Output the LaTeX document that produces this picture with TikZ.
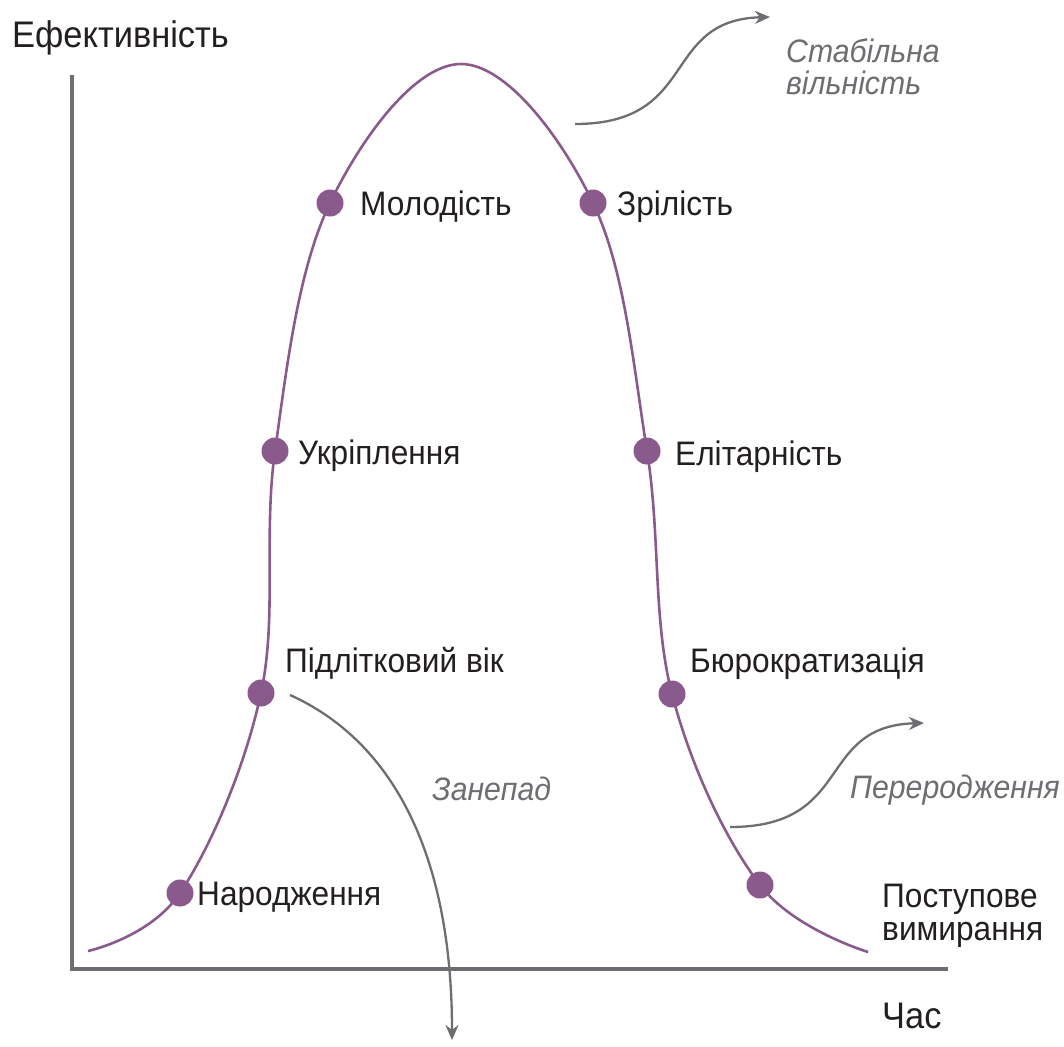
\documentclass[tikz,border=0pt]{standalone}
\usepackage{fontspec}
\setmainfont[FakeStretch=0.93]{Liberation Sans}
\usetikzlibrary{arrows.meta}
\definecolor{axisgray}{HTML}{6D6E71}
\definecolor{lifepurple}{HTML}{8A5A8C}
\definecolor{labeldark}{HTML}{231F20}
\definecolor{notegray}{HTML}{6D6E71}
\begin{document}
\begin{tikzpicture}[x=1pt,y=-1pt,
  axisline/.style={draw=axisgray,line width=3.5pt},
  lifecurve/.style={draw=lifepurple,line width=2.6pt},
  stagedot/.style={circle,fill=lifepurple,inner sep=0pt,minimum size=27pt},
  stagelabel/.style={anchor=base west,inner sep=0pt,text=labeldark,font=\fontsize{34}{38}\selectfont},
  axislabel/.style={anchor=base west,inner sep=0pt,text=labeldark,font=\fontsize{37}{40}\selectfont},
  notelabel/.style={anchor=base west,inner sep=0pt,text=notegray,font=\fontsize{32.5}{36}\selectfont\itshape},
  trendarrow/.style={draw=axisgray,line width=2.3pt,-{Stealth[length=15pt,width=13pt]}}]
\useasboundingbox (0,0) rectangle (1064,1046);
% axes
\coordinate (ytop) at (72,75);
\coordinate (origin) at (72,969);
\coordinate (xend) at (948,969);
\draw[axisline] (ytop) -- (origin) -- (xend);
% curve points
\coordinate (c0) at (88,951);
\coordinate (p1) at (180,893);
\coordinate (p2) at (261,693);
\coordinate (p3) at (275,451);
\coordinate (p4) at (330,203);
\coordinate (peak) at (461,64);
\coordinate (p5) at (593,203);
\coordinate (p6) at (647,451);
\coordinate (p7) at (672,694);
\coordinate (p8) at (760,885);
\coordinate (c9) at (868,952);
\draw[lifecurve] plot[smooth,tension=0.62] coordinates {(88,951) (180,893) (261,693) (275,451) (330,203) (461,64) (593,203) (647,451) (672,694) (760,885) (868,952)};
% dots
\foreach \p in {p1,p2,p3,p4,p5,p6,p7,p8} \node[stagedot] (d\p) at (\p) {};
% stage labels
\node[stagelabel] (lbirth) at (197,905) {Народження};
\node[stagelabel] (lteen) at (285,672) {Підлітковий вік};
\node[stagelabel] (lstr) at (298,464) {Укріплення};
\node[stagelabel] (lyouth) at (360,215) {Молодість};
\node[stagelabel] (lmat) at (617,215) {Зрілість};
\node[stagelabel] (lelite) at (675,465) {Елітарність};
\node[stagelabel] (lbur) at (690,672) {Бюрократизація};
\node[stagelabel] (ldie1) at (882,907) {Поступове};
\node[stagelabel] (ldie2) at (882,940) {вимирання};
\node[axislabel] (ltime) at (882,1028) {Час};
\node[axislabel] (leff) at (12,48) {Ефективність};
% notes
\node[notelabel] (lstab1) at (786,63) {Стабільна};
\node[notelabel] (lstab2) at (786,95) {вільність};
\node[notelabel] (ldecl) at (432,800) {Занепад};
\node[notelabel] (lreb) at (850,798) {Переродження};
% arrows
\coordinate (sA) at (575,124);
\coordinate (sB) at (770,17);
\draw[trendarrow] (sA) .. controls (700,124) and (660,20) .. (sB);
\coordinate (rA) at (730,827);
\coordinate (rB) at (924,723);
\draw[trendarrow] (rA) .. controls (855,827) and (815,726) .. (rB);
\coordinate (zA) at (290,695);
\coordinate (zB) at (452,1040);
\draw[trendarrow] (zA) .. controls (390,740) and (452,850) .. (zB);
\end{tikzpicture}
\end{document}
